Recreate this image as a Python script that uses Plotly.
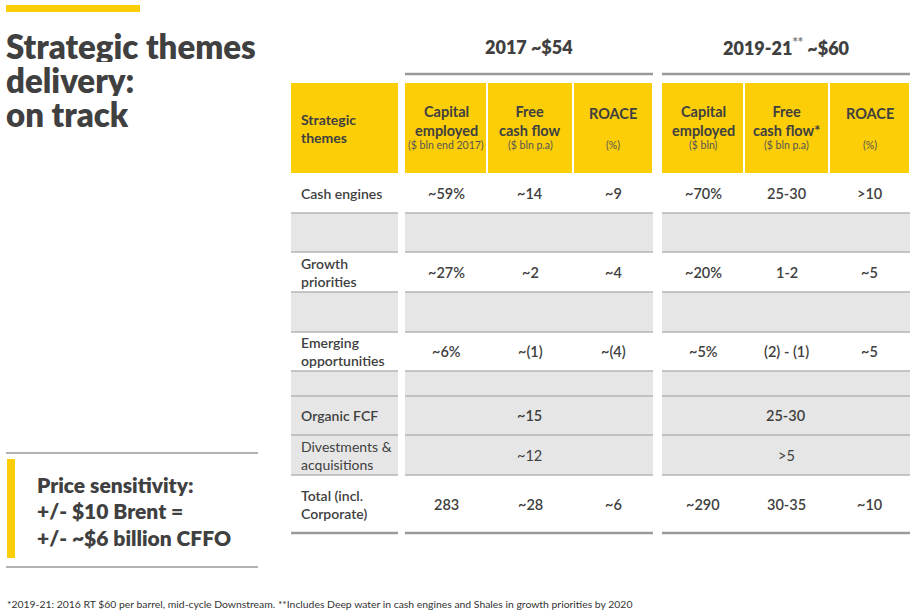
import plotly.graph_objects as go

W, H = 918, 616
DARK = "#404040"
YELLOW = "#fbce07"
GREY_FILL = "#e6e6e6"
RULE = "#b4b4b4"
RULE_DARK = "#9a9a9a"
FONT = "Lato"

# ---- data -------------------------------------------------------------
title_lines = ["Strategic themes", "delivery:", "on track"]
period_labels = ["2017 ~$54", "2019-21<sup><span style='color:#888888'>**</span></sup> ~$60"]

theme_header = "Strategic<br>themes"
col_titles_2017 = ["Capital<br>employed", "Free<br>cash flow", "ROACE"]
col_units_2017 = ["($ bln end 2017)", "($ bln p.a)", "(%)"]
col_titles_2021 = ["Capital<br>employed", "Free<br>cash flow*", "ROACE"]
col_units_2021 = ["($ bln)", "($ bln p.a)", "(%)"]

themes = ["Cash engines", "Growth<br>priorities", "Emerging<br>opportunities"]
capital_2017 = ["~59%", "~27%", "~6%"]
fcf_2017 = ["~14", "~2", "~(1)"]
roace_2017 = ["~9", "~4", "~(4)"]
capital_2021 = ["~70%", "~20%", "~5%"]
fcf_2021 = ["25-30", "1-2", "(2) - (1)"]
roace_2021 = [">10", "~5", "~5"]

flow_rows = ["Organic FCF", "Divestments &<br>acquisitions"]
flow_2017 = ["~15", "~12"]
flow_2021 = ["25-30", ">5"]

total_label = "Total (incl.<br>Corporate)"
total_2017 = ["283", "~28", "~6"]
total_2021 = ["~290", "30-35", "~10"]

sensitivity = ["Price sensitivity:", "+/- $10 Brent =", "+/- ~$6 billion CFFO"]
footnote = ("*2019-21: 2016 RT $60 per barrel, mid-cycle Downstream. "
            "**Includes Deep water in cash engines and Shales in growth priorities by 2020")

# ---- layout grid (pixels, y grows downward) ---------------------------
label_x = (291, 398)
blocks = [(405, 653), (662, 910)]
col_edges = [[405, 487, 573, 653], [662, 744, 829, 910]]
header_y = (83, 173)
theme_bands = [(173, 213), (252, 292), (332, 371)]
grey_bands = [(213, 252), (292, 332), (371, 396)]
flow_bands = [(396, 435), (435, 475)]
total_band = (475, 533)

fig = go.Figure()
fig.add_trace(go.Scatter(x=[0, W], y=[0, H], mode="markers",
                         marker=dict(opacity=0), hoverinfo="skip", showlegend=False))


def rect(x0, x1, y0, y1, color):
    fig.add_shape(type="rect", x0=x0, x1=x1, y0=y0, y1=y1,
                  fillcolor=color, line=dict(width=0), layer="below")


def hline(x0, x1, y, color=RULE, width=1.5):
    fig.add_shape(type="line", x0=x0, x1=x1, y0=y, y1=y,
                  line=dict(color=color, width=width))


def text(x, y, s, size, weight=700, anchor="center", color=DARK, family=FONT, height=None):
    fig.add_annotation(x=x, y=y, text=s, showarrow=False, xanchor=anchor,
                       yanchor="middle", align=anchor if anchor != "center" else "center",
                       height=height,
                       font=dict(family=family, size=size, color=color, weight=weight))


# title block
rect(6, 140, 5, 12, YELLOW)
for i, line in enumerate(title_lines):
    text(4, 45 + i * 34, line, 33, weight=800, anchor="left", height=33)

# period headers with rules
for (bx0, bx1), label in zip(blocks, period_labels):
    text((bx0 + bx1) / 2, 47, label, 18, weight=800)
    hline(bx0, bx1, 74, RULE_DARK, 2.5)

# yellow header row
rect(label_x[0], label_x[1], header_y[0], header_y[1], YELLOW)
text(label_x[0] + 8, 128, theme_header, 14, anchor="left")
for edges, titles, units in [(col_edges[0], col_titles_2017, col_units_2017),
                             (col_edges[1], col_titles_2021, col_units_2021)]:
    for j in range(3):
        x0, x1 = edges[j] + (1 if j else 0), edges[j + 1] - 1
        rect(x0, x1, header_y[0], header_y[1], YELLOW)
        cx = (edges[j] + edges[j + 1]) / 2
        if "<br>" in titles[j]:
            text(cx, 121, titles[j], 14.5)
        else:
            text(cx, 113, titles[j], 14.5)
        text(cx, 145, units[j], 10.5, weight=400, color="#555555")

# grey spacer bands
for y0, y1 in grey_bands + flow_bands:
    rect(label_x[0], label_x[1], y0, y1, GREY_FILL)
    for bx0, bx1 in blocks:
        rect(bx0, bx1, y0, y1, GREY_FILL)

rule_ys = sorted({y for band in grey_bands + flow_bands for y in band})
for y in rule_ys:
    hline(label_x[0], label_x[1], y)
    for bx0, bx1 in blocks:
        hline(bx0, bx1, y)

# theme rows
for i, (y0, y1) in enumerate(theme_bands):
    cy = (y0 + y1) / 2
    text(label_x[0] + 8, cy, themes[i], 14, weight=600, anchor="left")
    row = [capital_2017[i], fcf_2017[i], roace_2017[i],
           capital_2021[i], fcf_2021[i], roace_2021[i]]
    for k, val in enumerate(row):
        edges = col_edges[k // 3]
        j = k % 3
        text((edges[j] + edges[j + 1]) / 2, cy, val, 14.5, weight=600)

# free cash flow split rows
for i, (y0, y1) in enumerate(flow_bands):
    cy = (y0 + y1) / 2
    w = 600 if i == 0 else 400
    text(label_x[0] + 8, cy, flow_rows[i], 14, weight=w, anchor="left")
    for (bx0, bx1), vals in zip(blocks, [flow_2017, flow_2021]):
        text((bx0 + bx1) / 2, cy, vals[i], 14.5, weight=w)

# total row
cy = (total_band[0] + total_band[1]) / 2
text(label_x[0] + 8, cy, total_label, 14, weight=600, anchor="left")
for k, val in enumerate(total_2017 + total_2021):
    edges = col_edges[k // 3]
    j = k % 3
    text((edges[j] + edges[j + 1]) / 2, cy, val, 14.5, weight=600)
hline(label_x[0], label_x[1], total_band[1], RULE_DARK, 2.5)
for bx0, bx1 in blocks:
    hline(bx0, bx1, total_band[1], RULE_DARK, 2.5)

# price sensitivity box
hline(6, 258, 453, RULE_DARK, 1.5)
hline(6, 258, 567, RULE_DARK, 1.5)
rect(7, 15, 459, 558, YELLOW)
for i, line in enumerate(sensitivity):
    text(35, 484 + i * 26.5, line, 21, weight=800, anchor="left")

# footnote
text(5, 604, footnote, 10.4, weight=400, anchor="left", color="#333333")

fig.update_layout(
    width=W, height=H,
    margin=dict(l=0, r=0, t=0, b=0),
    paper_bgcolor="white", plot_bgcolor="white",
    xaxis=dict(range=[0, W], visible=False, fixedrange=True),
    yaxis=dict(range=[H, 0], visible=False, fixedrange=True),
    showlegend=False,
)

# drop the page's default body margin so the figure sits at the window corner
fig.write_html("out.html", config={"displayModeBar": False},
               post_script="document.body.style.margin='0';")
